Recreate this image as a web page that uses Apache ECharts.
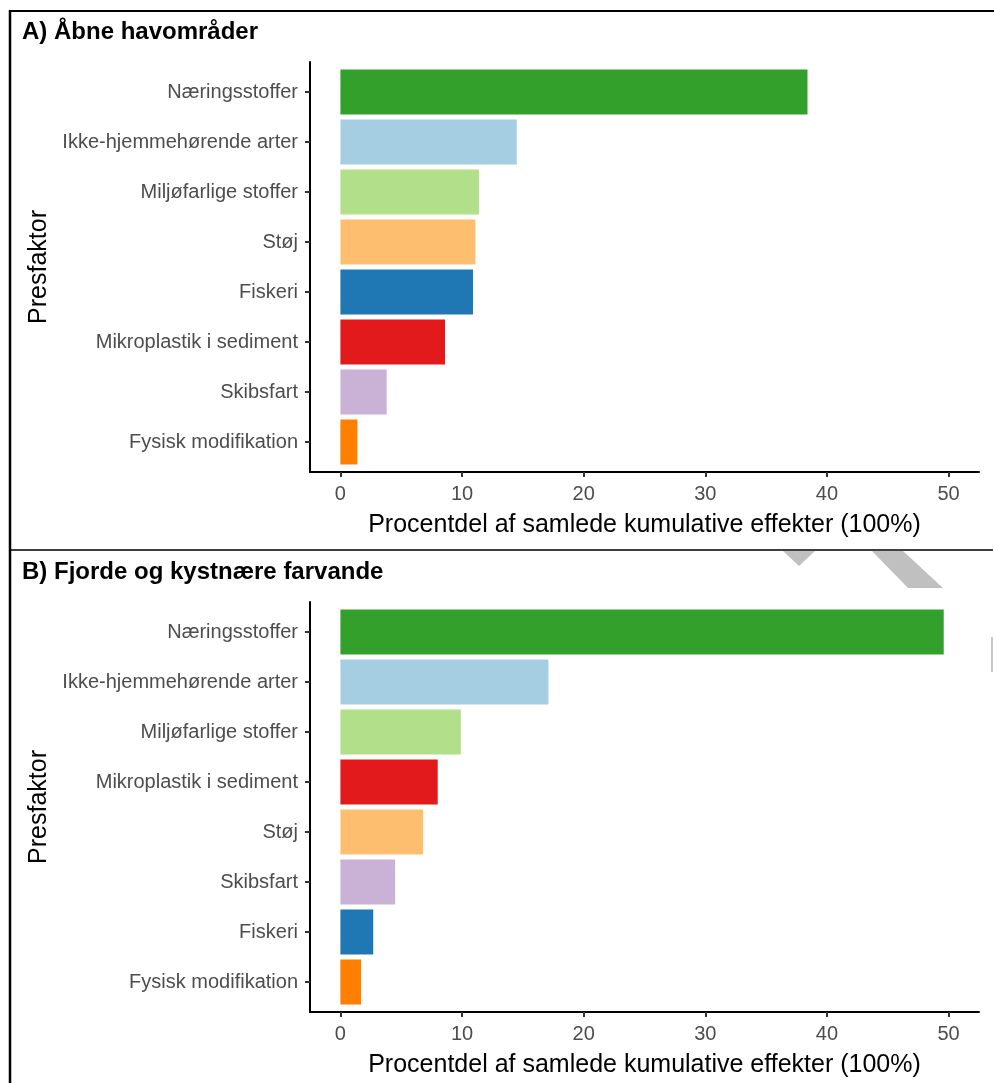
<!DOCTYPE html>
<html><head><meta charset="utf-8">
<script src="https://cdn.jsdelivr.net/npm/echarts@6/dist/echarts.min.js"></script>
<style>html,body{margin:0;padding:0;background:#fff}#c{width:994px;height:1083px}</style>
</head><body><div id="c"></div>
<script>
// ---- data ----
const categoriesA = ['Næringsstoffer','Ikke-hjemmehørende arter','Miljøfarlige stoffer','Støj','Fiskeri','Mikroplastik i sediment','Skibsfart','Fysisk modifikation'];
const valuesA = [38.4, 14.5, 11.4, 11.1, 10.9, 8.6, 3.8, 1.4];
const categoriesB = ['Næringsstoffer','Ikke-hjemmehørende arter','Miljøfarlige stoffer','Mikroplastik i sediment','Støj','Skibsfart','Fiskeri','Fysisk modifikation'];
const valuesB = [49.6, 17.1, 9.9, 8.0, 6.8, 4.5, 2.7, 1.7];
const xTicks = [0, 10, 20, 30, 40, 50];
const titleA = 'A) Åbne havområder';
const titleB = 'B) Fjorde og kystnære farvande';
const xName = 'Procentdel af samlede kumulative effekter (100%)';
const yName = 'Presfaktor';

// ---- styles ----
const colorOf = {
  'Næringsstoffer':'#33a02c','Ikke-hjemmehørende arter':'#a6cee3','Miljøfarlige stoffer':'#b2df8a',
  'Støj':'#fdbf6f','Fiskeri':'#1f78b4','Mikroplastik i sediment':'#e31a1c','Skibsfart':'#cab2d6',
  'Fysisk modifikation':'#ff7f00'
};
const FONT = '"Liberation Sans", Arial, sans-serif';

function xAxisFor(gi){
  return {
    type:'value', gridIndex:gi, min:-2.5, max:52.5,
    axisLine:{show:true, onZero:false, lineStyle:{color:'#000', width:2}},
    axisTick:{show:true, length:5, customValues:xTicks, lineStyle:{color:'#333', width:2}},
    axisLabel:{customValues:xTicks, color:'#4d4d4d', fontSize:20, fontFamily:FONT, margin:12},
    splitLine:{show:false},
    name:xName, nameLocation:'middle', nameGap:41,
    nameTextStyle:{color:'#000', fontSize:25, fontFamily:FONT}
  };
}
function yAxisFor(gi, cats){
  const pos = cats.map((c,i)=>cats.length - i);
  return {
    type:'value', gridIndex:gi, min:0.4, max:cats.length + 0.6,
    axisLine:{show:true, onZero:false, lineStyle:{color:'#000', width:2}},
    axisTick:{show:true, length:5, customValues:pos, lineStyle:{color:'#333', width:2}},
    axisLabel:{customValues:pos, color:'#4d4d4d', fontSize:20, fontFamily:FONT, margin:12,
      formatter:(v)=>cats[cats.length - Math.round(v)]},
    splitLine:{show:false},
    name:yName, nameLocation:'middle', nameGap:249, nameRotate:90,
    nameTextStyle:{color:'#000', fontSize:25, fontFamily:FONT}
  };
}
function seriesFor(gi, cats, vals){
  return {
    type:'custom', xAxisIndex:gi, yAxisIndex:gi,
    data: cats.map((c,i)=>[vals[i], cats.length - i, i]),
    encode:{x:0, y:1},
    renderItem:(params, api)=>{
      const v = api.value(0), p = api.value(1), idx = api.value(2);
      const s = api.coord([0, p]), e = api.coord([v, p]);
      const h = api.size([0, 0.9])[1];
      return {type:'rect', shape:{x:s[0], y:s[1]-h/2, width:e[0]-s[0], height:h},
        style:{fill:colorOf[cats[idx]]}};
    }
  };
}

const chart = echarts.init(document.getElementById('c'), null, {renderer:'canvas'});
chart.setOption({
  backgroundColor:'#fff',
  animation:false,
  title:[
    {text:titleA, left:22, top:20, padding:0, textStyle:{fontSize:24, fontWeight:'bold', color:'#000', fontFamily:FONT}},
    {text:titleB, left:22, top:560, padding:0, textStyle:{fontSize:24, fontWeight:'bold', color:'#000', fontFamily:FONT}}
  ],
  grid:[
    {left:310, top:62, width:669, height:410, containLabel:false},
    {left:310, top:602, width:669, height:410, containLabel:false}
  ],
  xAxis:[xAxisFor(0), xAxisFor(1)],
  yAxis:[yAxisFor(0, categoriesA), yAxisFor(1, categoriesB)],
  series:[seriesFor(0, categoriesA, valuesA), seriesFor(1, categoriesB, valuesB)],
  graphic:[
    {type:'line', shape:{x1:9, y1:11, x2:994, y2:11}, style:{stroke:'#000', lineWidth:2}},
    {type:'line', shape:{x1:10, y1:10, x2:10, y2:1083}, style:{stroke:'#000', lineWidth:2.5}},
    {type:'line', shape:{x1:9, y1:550, x2:993, y2:550}, style:{stroke:'#000', lineWidth:1.5}},
    {type:'polygon', shape:{points:[[783,551],[815,551],[799,566]]}, style:{fill:'#c0c0c0'}},
    {type:'polygon', shape:{points:[[872,551],[903,551],[943,588],[908,588]]}, style:{fill:'#c0c0c0'}},
    {type:'rect', shape:{x:991, y:637, width:2, height:35}, style:{fill:'#c8c8c8'}}
  ]
});
</script></body></html>
